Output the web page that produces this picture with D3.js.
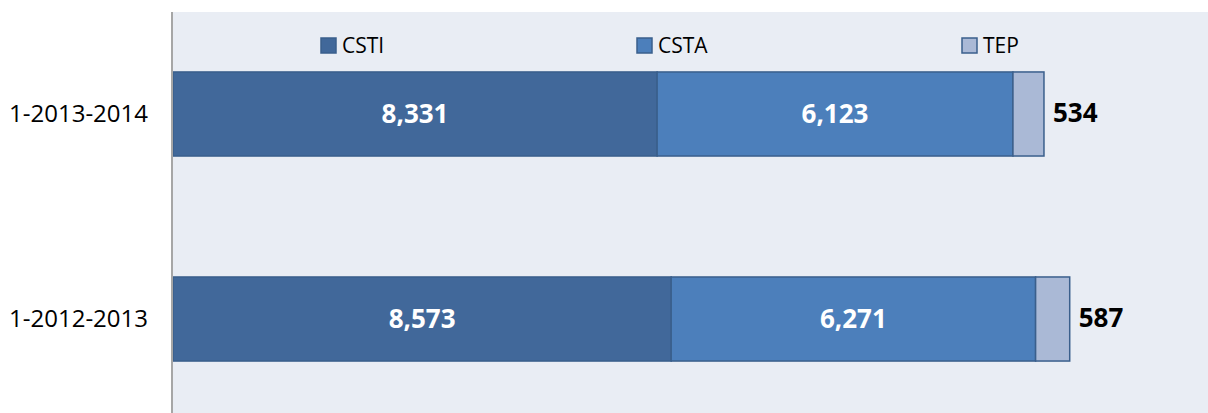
<!DOCTYPE html>
<html><head><meta charset="utf-8">
<script src="https://cdn.jsdelivr.net/npm/d3@7"></script>
<style>html,body{margin:0;padding:0;background:#fff}svg{display:block}</style>
</head><body>
<script>
const categories = ["1-2013-2014", "1-2012-2013"];
const seriesNames = ["CSTI", "CSTA", "TEP"];
const csti = [8331, 8573];
const csta = [6123, 6271];
const tep = [534, 587];

const W = 1208, H = 413;
const colors = {CSTI: "#41689A", CSTA: "#4C7FBB", TEP: "#AAB9D6"};
const strokeC = "#3A5F8C";
const font = "'Open Sans', 'DejaVu Sans', sans-serif";

const svg = d3.select("body").append("svg").attr("width", W).attr("height", H);

svg.append("rect").attr("x", 173).attr("y", 12).attr("width", W - 173).attr("height", H - 12).attr("fill", "#E9EDF4");

const x = d3.scaleLinear().domain([0, 18000]).range([173, 1219]);
const y = d3.scaleBand().domain(categories).range([16, 417]).paddingInner(0.59).paddingOuter(0.273);

const rows = categories.map((c, i) => ({cat: c, CSTI: csti[i], CSTA: csta[i], TEP: tep[i]}));
const stacked = d3.stack().keys(seriesNames)(rows);

const g = svg.append("g");
stacked.forEach(layer => {
  g.selectAll(null).data(layer).enter().append("rect")
    .attr("x", d => x(d[0]))
    .attr("y", d => y(d.data.cat))
    .attr("width", d => x(d[1]) - x(d[0]))
    .attr("height", y.bandwidth())
    .attr("fill", colors[layer.key])
    .attr("stroke", strokeC).attr("stroke-width", 1.5);
});

// inside labels for CSTI and CSTA
stacked.slice(0, 2).forEach(layer => {
  g.selectAll(null).data(layer).enter().append("text")
    .attr("x", d => (x(d[0]) + x(d[1])) / 2)
    .attr("y", d => y(d.data.cat) + y.bandwidth() / 2)
    .attr("dy", "0.35em")
    .attr("text-anchor", "middle")
    .attr("fill", "#fff").attr("font-family", font).attr("font-weight", 700).attr("font-size", 26)
    .text(d => d3.format(",")(d.data[layer.key]));
});
// TEP outside labels
const tepLayer = stacked[2];
g.selectAll(null).data(tepLayer).enter().append("text")
  .attr("x", d => x(d[1]) + 9)
  .attr("y", d => y(d.data.cat) + y.bandwidth() / 2 - 1)
  .attr("dy", "0.35em")
  .attr("fill", "#000").attr("font-family", font).attr("font-weight", 700).attr("font-size", 26)
  .text(d => d3.format(",")(d.data.TEP));

// axis
const yAxis = d3.axisLeft(y).tickSize(0).tickPadding(24);
const ag = svg.append("g").attr("transform", "translate(172,0)").call(yAxis);
ag.select(".domain").attr("stroke", "#A6A6A6").attr("stroke-width", 2).attr("d", "M0,12V413");
ag.selectAll("text").attr("font-family", font).attr("font-size", 24).attr("fill", "#000").attr("dy", "0.33em");

// legend
const legendX = [321, 637, 962];
const lg = svg.append("g");
seriesNames.forEach((s, i) => {
  lg.append("rect").attr("x", legendX[i]).attr("y", 38).attr("width", 15).attr("height", 15)
    .attr("fill", colors[s]).attr("stroke", strokeC).attr("stroke-width", 1.5);
  lg.append("text").attr("x", legendX[i] + 21).attr("y", 53)
    .attr("font-family", font).attr("font-size", 21).attr("fill", "#000").text(s);
});
</script>
</body></html>
